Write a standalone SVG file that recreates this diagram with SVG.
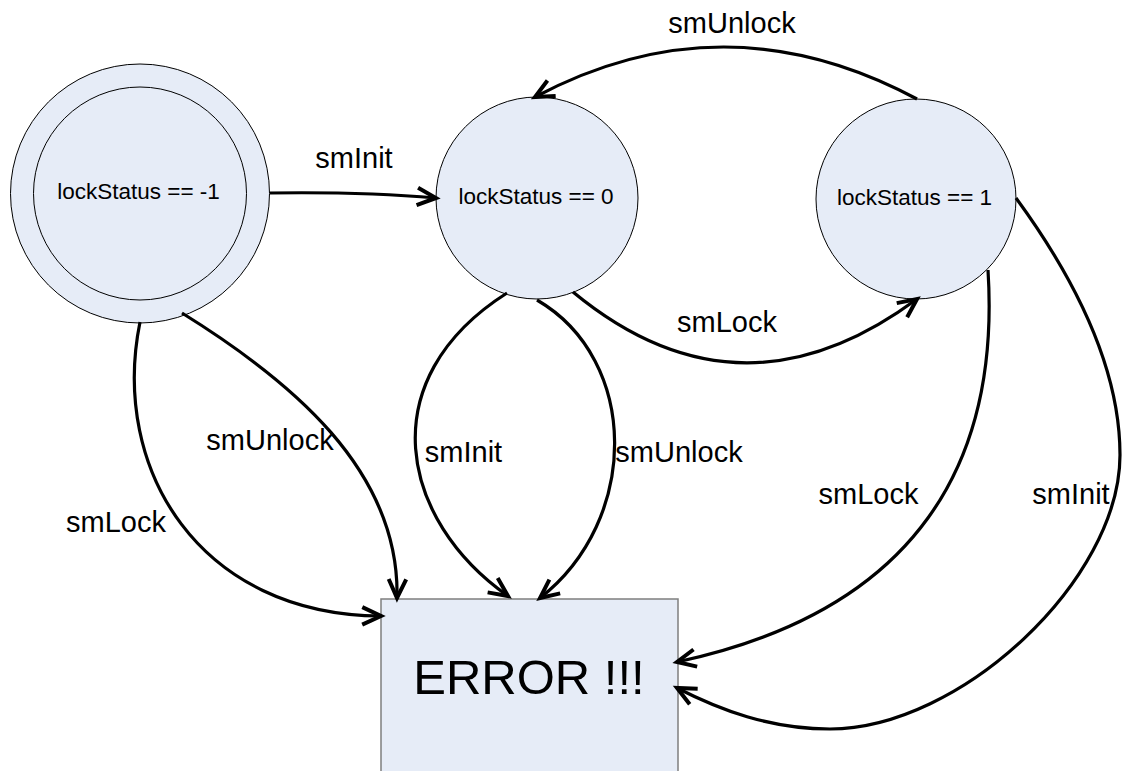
<svg xmlns="http://www.w3.org/2000/svg" width="1123" height="771" viewBox="0 0 1123 771">
<style>
.st{fill:#E6ECF7;stroke:#000;stroke-width:1}
.nt{font-family:"Liberation Sans",Arial,sans-serif;font-size:22.5px;fill:#000;text-anchor:middle}
.lb{font-family:"Liberation Sans",Arial,sans-serif;font-size:29px;fill:#000;text-anchor:middle}
.cn{fill:none;stroke:#000;stroke-width:3.2}
</style>
<defs>
<marker id="ah" markerUnits="userSpaceOnUse" orient="auto" markerWidth="30" markerHeight="30" refX="0" refY="0" viewBox="-20 -12 24 24" overflow="visible">
<path d="M-15,-7 L0,0 L-15,7" fill="none" stroke="#000" stroke-width="3.2" stroke-linejoin="miter"/>
</marker>
</defs>
<rect width="1123" height="771" fill="#fff"/>
<g id="node-minus1">
<circle class="st" cx="140" cy="193.5" r="129.5"/>
<circle class="st" cx="140" cy="193.5" r="106.5"/>
<text class="nt" x="138.5" y="199">lockStatus == -1</text>
</g>
<g id="node-0">
<circle class="st" cx="537" cy="198" r="101"/>
<text class="nt" x="536" y="204">lockStatus == 0</text>
</g>
<g id="node-1">
<circle class="st" cx="916" cy="199" r="100"/>
<text class="nt" x="914.5" y="205">lockStatus == 1</text>
</g>
<g id="node-error">
<rect x="381" y="599" width="297" height="200" fill="#E6ECF7" stroke="#7F7F7F" stroke-width="1.5"/>
<text x="529" y="694" font-family="'Liberation Sans',Arial,sans-serif" font-size="49" text-anchor="middle" fill="#000">ERROR !!!</text>
</g>
<g id="connectors">
<path class="cn" marker-end="url(#ah)" d="M270,193 C340,192 390,194 436,198"/>
<path class="cn" marker-end="url(#ah)" d="M917,99 Q725,-4 535,97"/>
<path class="cn" marker-end="url(#ah)" d="M573,292 Q740,430 917,299"/>
<path class="cn" marker-end="url(#ah)" d="M507,293 C370,380 400,520 508,596"/>
<path class="cn" marker-end="url(#ah)" d="M537,300 C640,360 640,520 540,598"/>
<path class="cn" marker-end="url(#ah)" d="M140,322 C110,470 200,615 381,616"/>
<path class="cn" marker-end="url(#ah)" d="M182,313 C290,380 400,470 397,598"/>
<path class="cn" marker-end="url(#ah)" d="M988,270 C1000,460 920,610 677,662"/>
<path class="cn" marker-end="url(#ah)" d="M1016,198 C1065,265 1120,360 1120,455 C1120,580 960,729 830,729 C770,729 720,710 677,688"/>
</g>
<g id="labels">
<text class="lb" x="732" y="33">smUnlock</text>
<text class="lb" x="354" y="168">smInit</text>
<text class="lb" x="727" y="332">smLock</text>
<text class="lb" x="270" y="450">smUnlock</text>
<text class="lb" x="116" y="532">smLock</text>
<text class="lb" x="463.5" y="462">smInit</text>
<text class="lb" x="679" y="462">smUnlock</text>
<text class="lb" x="868.5" y="504">smLock</text>
<text class="lb" x="1071" y="504">smInit</text>
</g>
</svg>
